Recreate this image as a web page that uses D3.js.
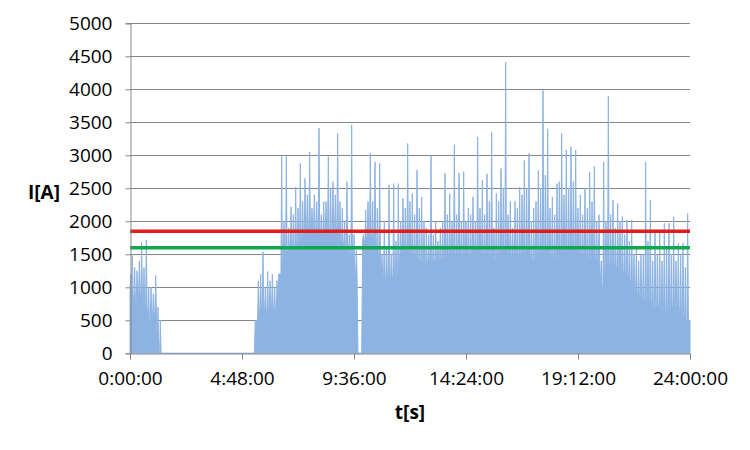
<!DOCTYPE html>
<html><head><meta charset="utf-8">
<script src="https://cdn.jsdelivr.net/npm/d3@7"></script>
<style>body{margin:0;background:#fff}svg{display:block}</style>
</head><body>
<svg id="c" width="750" height="450"></svg>
<script>
// ---- data ----
const binHours = 0.2; // each value covers a 12-minute bin
// tallest spike in each bin (at bin centre)
const peakA = [1500,1250,1680,1720,1000,1180,500,
  0,0,0,0,0,0,0,0,0,0,0,0,0,0,0,0,0,0,0,0,
  1100,1540,1240,1200,1100,2980,2980,2220,2520,2880,2650,3050,2400,3410,2300,2980,2600,3330,2200,2600,3460,1560,0,
  2170,3030,2900,2880,2000,2550,2570,2570,2350,3180,2420,2780,2370,1900,3000,2000,1900,2730,2420,3160,2730,2750,
  2200,2370,3280,2620,2720,3350,2420,2800,4410,2300,2300,2520,2920,3030,2200,2770,3980,3400,2370,2570,3330,3080,3130,3080,
  2400,2500,2750,2830,2100,2900,3900,2320,2270,2070,2020,2020,1600,1500,2900,2320,1870,1870,1970,1970,2070,1670,1670,2120];
// secondary spike at the start of each bin
const midA = [1200,1300,1400,1300,1000,900,700,
  0,0,0,0,0,0,0,0,0,0,0,0,0,0,0,0,0,0,0,0,
  0,1200,1000,1100,1000,1200,2000,1900,2100,2200,2300,2400,2200,2300,2100,2300,2500,2400,2300,2000,1800,1800,0,
  1800,2300,2300,2200,1500,1600,1500,1700,2000,2200,2300,2100,2200,2000,1800,1800,1700,2000,2100,2000,2100,2000,
  2000,2100,2000,2200,2100,2300,1900,2300,2500,2100,1900,2200,2400,2500,2000,2300,2500,2700,2200,2100,2600,2400,2500,2600,
  2200,2100,2200,2300,2000,1400,2000,2100,1900,2000,1800,1700,1500,1400,1500,1700,1400,1500,1400,1600,1500,1400,1500,1300];
// dense body level in each bin
const bodyA = [900,800,900,700,500,600,0,
  0,0,0,0,0,0,0,0,0,0,0,0,0,0,0,0,0,0,0,0,
  500,700,650,700,650,1200,1500,1550,1600,1700,1800,1900,1900,1850,1800,1900,1800,1900,1700,1600,1500,1200,0,
  1700,1800,1700,1500,1150,1150,1150,1200,1500,1550,1500,1450,1400,1350,1400,1400,1400,1450,1500,1500,1500,1500,
  1500,1500,1550,1500,1500,1500,1400,1500,1550,1500,1500,1450,1500,1550,1400,1450,1550,1550,1450,1450,1550,1550,1550,1550,
  1500,1500,1450,1450,1400,1000,1350,1350,1300,1250,1200,1100,950,850,800,800,700,700,650,650,700,700,600,500];
const yTicks = [0,500,1000,1500,2000,2500,3000,3500,4000,4500,5000];
const xTickHours = [0,4.8,9.6,14.4,19.2,24];
const xTickLabels = ["0:00:00","4:48:00","9:36:00","14:24:00","19:12:00","24:00:00"];
const limitRed = 1850;
const limitGreen = 1600;

// ---- drawing ----
const svg = d3.select("#c");
const L = 130, R = 690, T = 23.3, B = 353.3;
const x = d3.scaleLinear().domain([0, 24]).range([L, R]);
const y = d3.scaleLinear().domain([0, 5000]).range([B, T]);
const font = "'Open Sans', sans-serif";
const grid = "#868686";

// gridlines
svg.append("g").selectAll("line").data(yTicks.filter(v => v > 0)).join("line")
  .attr("x1", L).attr("x2", R)
  .attr("y1", d => Math.round(y(d)) + 0.5).attr("y2", d => Math.round(y(d)) + 0.5)
  .attr("stroke", grid).attr("stroke-width", 1);

// series points: body level, a secondary spike at each bin start, the tallest spike at bin centre
const eps = 0.03;
const pts = [[0, 0]];
peakA.forEach((p, i) => {
  const s = i * binHours, c = s + binHours / 2;
  pts.push([s + (i === 0 ? 0 : -eps), bodyA[i]], [s + (i === 0 ? eps : 0), midA[i]], [s + eps * (i === 0 ? 2 : 1), bodyA[i]]);
  pts.push([c - eps, bodyA[i]], [c, p], [c + eps, bodyA[i]]);
});
pts.push([24, bodyA[bodyA.length - 1]], [24, 0]);

const area = d3.area().x(d => x(d[0])).y0(y(0)).y1(d => y(d[1]));
svg.append("path").datum(pts).attr("d", area)
  .attr("fill", "#8db3e2").attr("stroke", "#8db3e2").attr("stroke-width", 1).attr("stroke-linejoin", "miter");

// limit lines
[[limitRed, "#e21b1b"], [limitGreen, "#10a84c"]].forEach(([v, col]) => {
  svg.append("line").attr("x1", L).attr("x2", R).attr("y1", y(v)).attr("y2", y(v))
    .attr("stroke", col).attr("stroke-width", 3.6);
});

// y axis
const yAxis = d3.axisLeft(y).tickValues(yTicks).tickSize(5).tickPadding(13).tickFormat(d3.format("d"));
const gy = svg.append("g").attr("transform", `translate(${L + 0.5},0)`).call(yAxis);
gy.select(".domain").attr("stroke", grid);
gy.selectAll(".tick line").attr("stroke", grid);
gy.selectAll("text").attr("font-family", font).attr("font-size", 19).attr("fill", "#000");

// x axis
const xAxis = d3.axisBottom(x).tickValues(xTickHours).tickSize(6).tickPadding(12)
  .tickFormat((d, i) => xTickLabels[i]);
const gx = svg.append("g").attr("transform", `translate(0,${Math.round(B) + 0.5})`).call(xAxis);
gx.select(".domain").attr("stroke", grid);
gx.selectAll(".tick line").attr("stroke", grid);
gx.selectAll("text").attr("font-family", font).attr("font-size", 19).attr("fill", "#000");

// axis titles
svg.append("text").attr("x", 44).attr("y", 192).attr("text-anchor", "middle").attr("dy", "0.35em")
  .attr("font-family", font).attr("font-size", 19).attr("font-weight", "bold").text("I[A]");
svg.append("text").attr("x", (L + R) / 2).attr("y", 412).attr("text-anchor", "middle").attr("dy", "0.35em")
  .attr("font-family", font).attr("font-size", 19).attr("font-weight", "bold").text("t[s]");
</script>
</body></html>
